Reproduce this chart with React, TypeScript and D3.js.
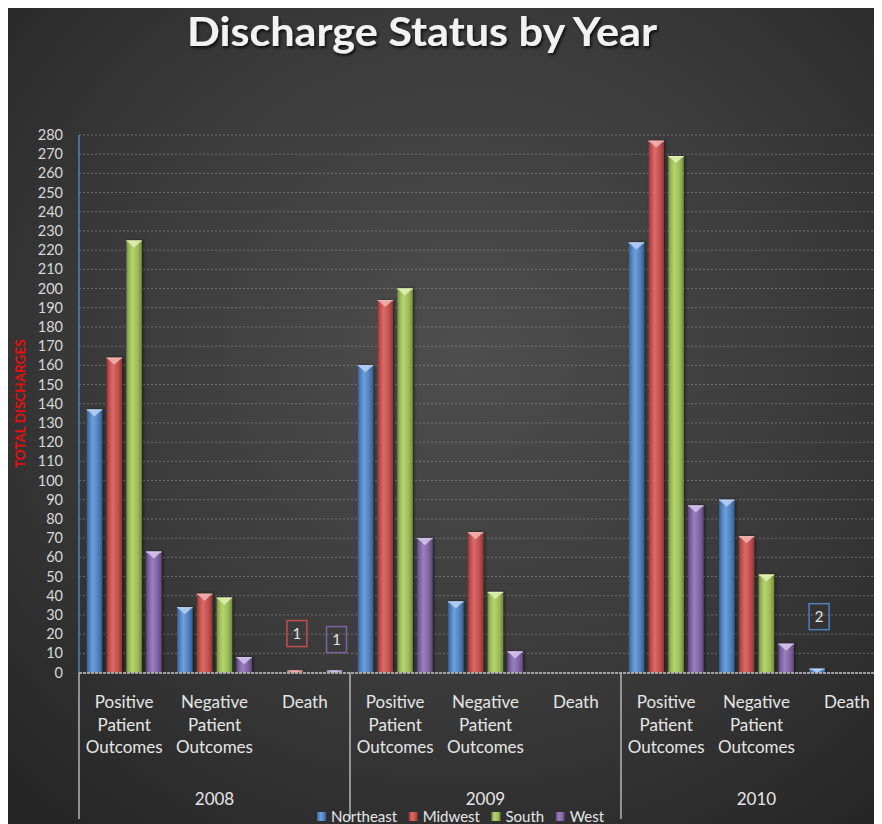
import React from 'react';
import * as d3 from 'd3';

const years = ['2008', '2009', '2010'];
const categories = ['Positive Patient Outcomes', 'Negative Patient Outcomes', 'Death'];
const categoryLines = [['Positive', 'Patient', 'Outcomes'], ['Negative', 'Patient', 'Outcomes'], ['Death']];
const series = ['Northeast', 'Midwest', 'South', 'West'];
// values in order: 2008 (Pos, Neg, Death), 2009 (...), 2010 (...)
const northeast = [137, 34, 0, 160, 37, 0, 224, 90, 2];
const midwest = [164, 41, 1, 194, 73, 0, 277, 71, 0];
const south = [225, 39, 0, 200, 42, 0, 269, 51, 0];
const west = [63, 8, 1, 70, 11, 0, 87, 15, 0];
const yTicks = d3.range(0, 281, 10);
const dataLabels = [
  { series: 'Midwest', index: 2, text: '1', lift: 37 },
  { series: 'West', index: 2, text: '1', lift: 31 },
  { series: 'Northeast', index: 8, text: '2', lift: 52 },
];

const seriesValues: Record<string, number[]> = { Northeast: northeast, Midwest: midwest, South: south, West: west };
const colors: Record<string, { base: string; light: string; dark: string; top: string }> = {
  Northeast: { base: '#4f81bd', light: '#6f9fdc', dark: '#385d8a', top: '#b9d3f5' },
  Midwest: { base: '#c0504d', light: '#db6b68', dark: '#8c3836', top: '#f2b5b3' },
  South: { base: '#9bbb59', light: '#b3d46f', dark: '#71893f', top: '#e0f2b4' },
  West: { base: '#8064a2', light: '#9a7fbf', dark: '#5c4776', top: '#d6c6ee' },
};

const W = 874;
const H = 816;
const FONT = "Lato, 'Open Sans', 'DejaVu Sans', sans-serif";

export default function App() {
  const plotLeft = 71;
  const plotTop = 127;
  const plotBottom = 664.5;
  const catW = 90.33;
  const keys = years.flatMap((y) => categories.map((c) => `${y}|${c}`));
  const x = d3.scaleBand<string>().domain(keys).range([plotLeft, plotLeft + catW * keys.length]).padding(0);
  const xs = d3.scaleBand<string>().domain(series).range([0, catW]).paddingInner(0.217).paddingOuter(0.39);
  const y = d3.scaleLinear().domain([0, 280]).range([plotBottom, plotTop]);
  const plotRight = plotLeft + catW * keys.length;
  const yearW = catW * categories.length;

  // legend layout
  const legendFont = `15px ${FONT}`;
  let measure = (t: string) => t.length * 7.5;
  if (typeof document !== 'undefined') {
    const ctx = document.createElement('canvas').getContext('2d');
    if (ctx) {
      ctx.font = legendFont;
      measure = (t: string) => ctx.measureText(t).width;
    }
  }
  const itemWidths = series.map((s) => 14 + measure(s));
  const gap = 11.5;
  let cursor = 309;
  const legendItems = series.map((s, i) => {
    const item = { s, x: cursor };
    cursor += itemWidths[i] + gap;
    return item;
  });

  return (
    <svg width={W} height={H} style={{ display: 'block' }} fontFamily={FONT}>
      <defs>
        <radialGradient id="bg" cx="52%" cy="42%" r="75%">
          <stop offset="0%" stopColor="#4e4e4e" />
          <stop offset="55%" stopColor="#3a3a3a" />
          <stop offset="100%" stopColor="#252525" />
        </radialGradient>
        {series.map((s) => (
          <linearGradient key={s} id={`g-${s}`} x1="0" x2="1" y1="0" y2="0">
            <stop offset="0%" stopColor={colors[s].dark} />
            <stop offset="18%" stopColor={colors[s].base} />
            <stop offset="40%" stopColor={colors[s].light} />
            <stop offset="75%" stopColor={colors[s].base} />
            <stop offset="100%" stopColor={colors[s].dark} />
          </linearGradient>
        ))}
        <filter id="shadow" x="-10%" y="-10%" width="120%" height="140%">
          <feDropShadow dx="1.5" dy="2" stdDeviation="1.5" floodColor="#000" floodOpacity="0.8" />
        </filter>
        <filter id="barShadow" x="-30%" y="-5%" width="160%" height="110%">
          <feDropShadow dx="1.5" dy="0" stdDeviation="1.5" floodColor="#000" floodOpacity="0.5" />
        </filter>
        <clipPath id="clip">
          <rect x={0} y={0} width={W} height={H} />
        </clipPath>
      </defs>
      <rect x={0} y={0} width={W} height={H} fill="url(#bg)" />

      <text x={414} y={38} textAnchor="middle" fontSize={40} fontWeight="bold" fill="#f2f2f2" filter="url(#shadow)" textLength={470} lengthAdjust="spacingAndGlyphs">
        Discharge Status by Year
      </text>

      {/* gridlines */}
      <g clipPath="url(#clip)">
        {yTicks.filter((t) => t > 0).map((t) => (
          <line key={t} x1={plotLeft} x2={plotRight} y1={y(t)} y2={y(t)} stroke="#9a9a9a" strokeOpacity={0.55} strokeDasharray="2,2" strokeWidth={1} />
        ))}
      </g>

      {/* y tick labels */}
      {yTicks.map((t) => (
        <text key={t} x={55} y={y(t) + 5} textAnchor="end" fontSize={14.5} fill="#d9d9d9">
          {t}
        </text>
      ))}
      <text transform={`translate(16.5, ${(plotTop + plotBottom) / 2}) rotate(-90)`} textAnchor="middle" fontSize={13.5} fontWeight="bold" fill="#e3100f">
        TOTAL DISCHARGES
      </text>

      {/* bars */}
      <g clipPath="url(#clip)">
        {keys.map((k, i) =>
          series.map((s) => {
            const v = seriesValues[s][i];
            if (!v) return null;
            const bx = (x(k) as number) + (xs(s) as number);
            const bw = xs.bandwidth();
            const top = y(v);
            const h = plotBottom - top;
            const bev = Math.min(7, h);
            return (
              <g key={`${k}-${s}`} filter="url(#barShadow)">
                <rect x={bx} y={top} width={bw} height={h} fill={`url(#g-${s})`} />
                <polygon points={`${bx},${top} ${bx + bw},${top} ${bx + bw / 2},${top + bev}`} fill={colors[s].top} opacity={0.85} />
                <line x1={bx} x2={bx + bw} y1={top + 0.5} y2={top + 0.5} stroke={colors[s].top} strokeWidth={1} />
              </g>
            );
          })
        )}
      </g>

      {/* axes */}
      <line x1={plotLeft} x2={plotLeft} y1={plotTop} y2={plotBottom} stroke="#4f81bd" strokeWidth={1.5} />
      <line x1={plotLeft} x2={plotRight} y1={plotBottom + 0.5} y2={plotBottom + 0.5} stroke="#c8c8c8" strokeWidth={1.5} strokeDasharray="3,1" />
      {years.map((yr, i) => (
        <line key={yr} x1={plotLeft + i * yearW} x2={plotLeft + i * yearW} y1={plotBottom} y2={811} stroke="#b5b5b5" strokeWidth={1.5} />
      ))}

      {/* data labels */}
      {dataLabels.map((d, i) => {
        const k = keys[d.index];
        const cx = (x(k) as number) + (xs(d.series) as number) + xs.bandwidth() / 2 + 2;
        const cy = y(seriesValues[d.series][d.index]) - d.lift;
        return (
          <g key={i}>
            <rect x={cx - 10} y={cy - 13} width={20} height={26} fill="none" stroke={colors[d.series].base} strokeWidth={1.5} />
            <text x={cx} y={cy + 5.5} textAnchor="middle" fontSize={15} fill="#e6e6e6">
              {d.text}
            </text>
          </g>
        );
      })}

      {/* category labels */}
      {keys.map((k, i) => {
        const lines = categoryLines[i % categories.length];
        const cx = (x(k) as number) + catW / 2;
        return (
          <text key={k} x={cx} y={700} textAnchor="middle" fontSize={17} fill="#e6e6e6">
            {lines.map((l, j) => (
              <tspan key={j} x={cx} dy={j === 0 ? 0 : 22.5}>
                {l}
              </tspan>
            ))}
          </text>
        );
      })}
      {years.map((yr, i) => (
        <text key={yr} x={plotLeft + i * yearW + yearW / 2} y={797} textAnchor="middle" fontSize={17} fill="#e6e6e6">
          {yr}
        </text>
      ))}

      {/* legend */}
      {legendItems.map((it) => (
        <g key={it.s}>
          <rect x={it.x} y={804} width={9} height={9} fill={`url(#g-${it.s})`} />
          <text x={it.x + 14} y={814} fontSize={15} fill="#e6e6e6">
            {it.s}
          </text>
        </g>
      ))}
    </svg>
  );
}
